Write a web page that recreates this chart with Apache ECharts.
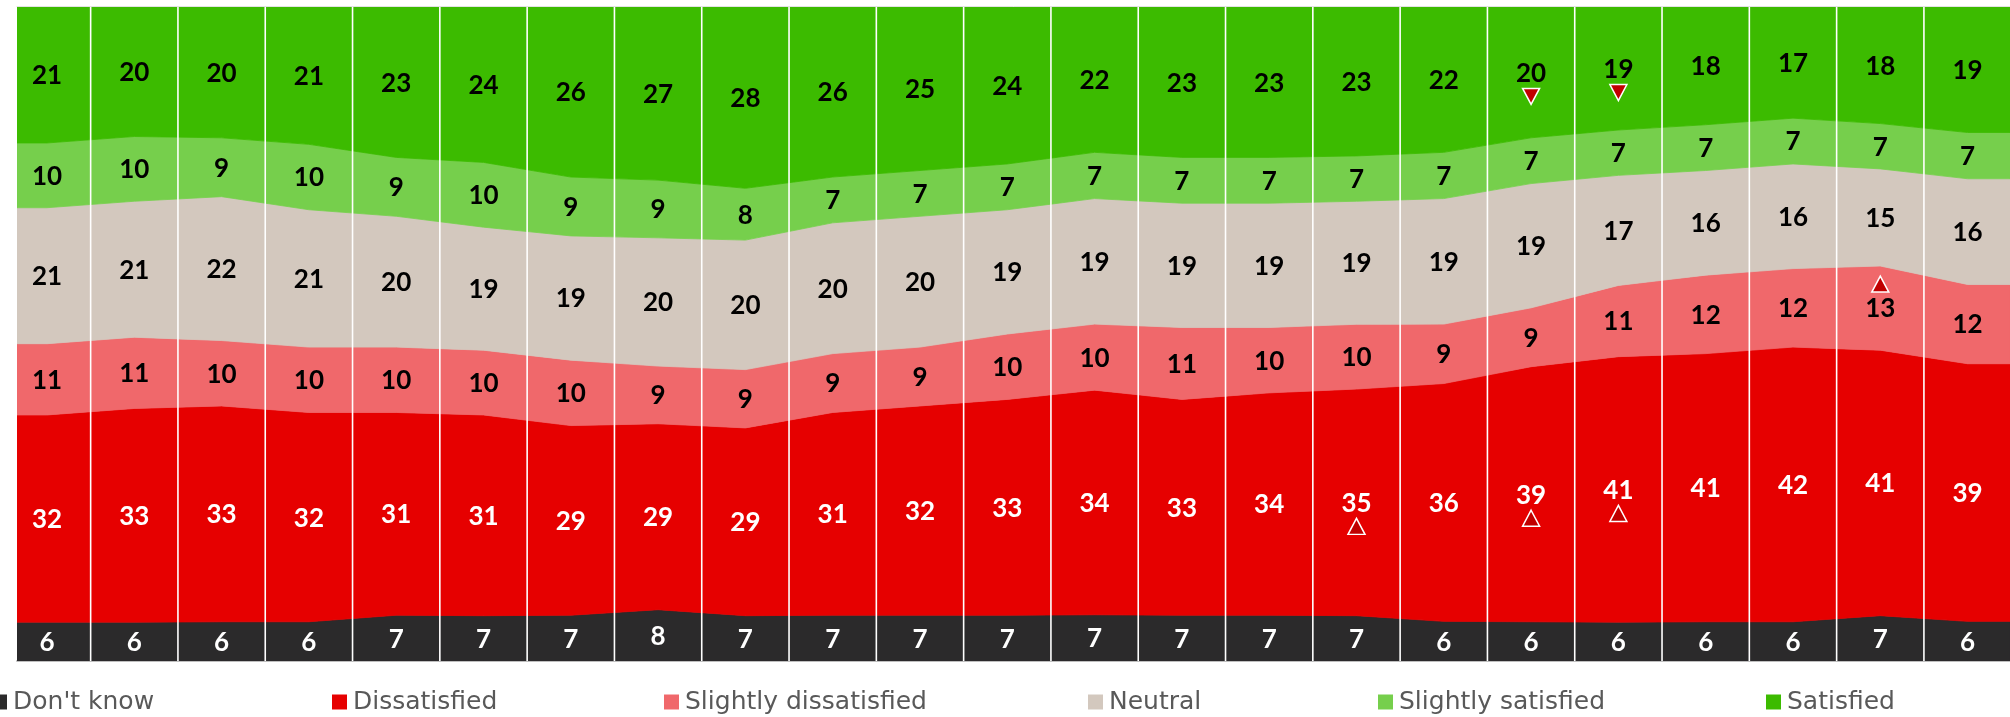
<!DOCTYPE html>
<html>
<head>
<meta charset="utf-8">
<script src="https://cdn.jsdelivr.net/npm/echarts@6/dist/echarts.min.js"></script>
<style>
  html, body { margin: 0; padding: 0; background: #ffffff; }
  #chart { width: 2010px; height: 717px; }
</style>
</head>
<body>
<div id="chart"></div>
<script>
// ---------------- data ----------------
const categories = ['1','2','3','4','5','6','7','8','9','10','11','12','13','14','15','16','17','18','19','20','21','22','23'];
const seriesNames = ["Don't know", 'Dissatisfied', 'Slightly dissatisfied', 'Neutral', 'Slightly satisfied', 'Satisfied'];

const dontKnow             = [6, 6, 6, 6, 7, 7, 7, 8, 7, 7, 7, 7, 7, 7, 7, 7, 6, 6, 6, 6, 6, 7, 6];
const dissatisfied         = [32, 33, 33, 32, 31, 31, 29, 29, 29, 31, 32, 33, 34, 33, 34, 35, 36, 39, 41, 41, 42, 41, 39];
const slightlyDissatisfied = [11, 11, 10, 10, 10, 10, 10, 9, 9, 9, 9, 10, 10, 11, 10, 10, 9, 9, 11, 12, 12, 13, 12];
const neutral              = [21, 21, 22, 21, 20, 19, 19, 20, 20, 20, 20, 19, 19, 19, 19, 19, 19, 19, 17, 16, 16, 15, 16];
const slightlySatisfied    = [10, 10, 9, 10, 9, 10, 9, 9, 8, 7, 7, 7, 7, 7, 7, 7, 7, 7, 7, 7, 7, 7, 7];
const satisfied            = [21, 20, 20, 21, 23, 24, 26, 27, 28, 26, 25, 24, 22, 23, 23, 23, 22, 20, 19, 18, 17, 18, 19];

// significance markers
const markerSeries    = ['Satisfied', 'Satisfied', 'Slightly dissatisfied', 'Dissatisfied', 'Dissatisfied', 'Dissatisfied'];
const markerIndex     = [17, 18, 21, 15, 17, 18];
const markerDirection = ['down', 'down', 'up', 'up', 'up', 'up'];
const markerSide      = ['below', 'below', 'above', 'below', 'below', 'below'];

// ---------------- styles ----------------
const colors = ['#2B2A2B', '#E60000', '#F0686B', '#D3C8BE', '#76CF4C', '#3CBB00'];
const labelColors = ['#FFFFFF', '#FFFFFF', '#000000', '#000000', '#000000', '#000000'];
const legendLeft = [-8, 332, 664, 1088, 1378, 1766];
const X_MIN = -0.3436, X_MAX = 22.486;
const MARKER_OFFSET = 24;

// ---------------- 100% stacking ----------------
const values = [dontKnow, dissatisfied, slightlyDissatisfied, neutral, slightlySatisfied, satisfied];
const n = categories.length;
const totals = categories.map((_, i) => values.reduce((s, arr) => s + arr[i], 0));
const lows = [], highs = [];
let acc = new Array(n).fill(0);
values.forEach(arr => {
  lows.push(acc.map((a, i) => a / totals[i] * 100));
  acc = acc.map((a, i) => a + arr[i]);
  highs.push(acc.map((a, i) => a / totals[i] * 100));
});

function bandRender(s) {
  return function (params, api) {
    const i = params.dataIndex;
    const lo = lows[s], hi = highs[s];
    const last = n - 1;
    const xl = i === 0 ? X_MIN : i - 0.5;
    const xr = i === last ? X_MAX : i + 0.5;
    const hl = i === 0 ? hi[0] : (hi[i - 1] + hi[i]) / 2;
    const hr = i === last ? hi[last] : (hi[i] + hi[i + 1]) / 2;
    const ll = i === 0 ? lo[0] : (lo[i - 1] + lo[i]) / 2;
    const lr = i === last ? lo[last] : (lo[i] + lo[i + 1]) / 2;
    const pts = [[xl, hl], [i, hi[i]], [xr, hr], [xr, lr], [i, lo[i]], [xl, ll]].map(p => api.coord(p));
    const mid = api.coord([i, (lo[i] + hi[i]) / 2]);
    return {
      type: 'group',
      children: [
        { type: 'polygon', shape: { points: pts },
          style: { fill: colors[s], stroke: colors[s], lineWidth: 0.8 } },
        { type: 'text', z2: 10,
          style: { text: String(api.value(1)), x: mid[0], y: mid[1] + 1,
                   align: 'center', verticalAlign: 'middle',
                   fill: labelColors[s], font: 'bold 26px Lato, "DejaVu Sans", sans-serif' } }
      ]
    };
  };
}

const bandSeries = values.map((arr, s) => ({
  type: 'custom',
  name: seriesNames[s],
  itemStyle: { color: colors[s] },
  renderItem: bandRender(s),
  data: arr.map((v, i) => [i, v]),
  encode: { x: 0, y: 1 },
  silent: true,
  z: 2 + s * 0.01,
  clip: true
}));

const separatorSeries = {
  type: 'custom',
  name: 'separators',
  silent: true,
  z: 5,
  renderItem: function (params, api) {
    const i = params.dataIndex;
    const a = api.coord([i + 0.5, 0]);
    const b = api.coord([i + 0.5, 100]);
    return { type: 'line', shape: { x1: a[0], y1: a[1], x2: b[0], y2: b[1] },
             style: { stroke: '#FFFFFF', lineWidth: 1.6 } };
  },
  data: categories.slice(0, n - 1).map((c, i) => [i, 0]),
  encode: { x: 0, y: 1 }
};

const markerData = markerSeries.map((name, k) => {
  const s = seriesNames.indexOf(name);
  const i = markerIndex[k];
  return {
    value: [i, (lows[s][i] + highs[s][i]) / 2],
    symbol: markerDirection[k] === 'down' ? 'path://M0,0L10,0L5,10Z' : 'triangle',
    symbolOffset: [0, markerSide[k] === 'below' ? MARKER_OFFSET : -MARKER_OFFSET]
  };
});

const markerSeriesObj = {
  type: 'scatter',
  name: 'markers',
  silent: true,
  z: 8,
  symbolSize: [17, 16],
  itemStyle: { color: '#C00000', borderColor: '#FFFFFF', borderWidth: 1.5, opacity: 1 },
  data: markerData
};

const legends = seriesNames.map((name, s) => ({
  data: [name],
  left: legendLeft[s],
  top: 689,
  icon: 'rect',
  itemWidth: 15,
  itemHeight: 15,
  itemGap: 0,
  padding: 0,
  selectedMode: false,
  textStyle: { fontFamily: '"DejaVu Sans", sans-serif', fontWeight: 'normal', fontSize: 25, color: '#595959', lineHeight: 26, padding: [0, 0, 0, 1] }
}));

const chart = echarts.init(document.getElementById('chart'), null, { renderer: 'canvas' });
chart.setOption({
  animation: false,
  backgroundColor: '#FFFFFF',
  grid: { left: 17, right: 0, top: 7, bottom: 56 },
  legend: legends,
  xAxis: [
    { type: 'value', min: X_MIN, max: X_MAX, position: 'bottom', offset: 1,
      axisLine: { show: true, lineStyle: { color: '#BFBFBF', width: 2 } },
      axisTick: { show: false }, axisLabel: { show: false }, splitLine: { show: false } },
    { type: 'value', min: X_MIN, max: X_MAX, position: 'top', offset: 1,
      axisLine: { show: true, lineStyle: { color: '#E3E3E3', width: 1 } },
      axisTick: { show: false }, axisLabel: { show: false }, splitLine: { show: false } }
  ],
  yAxis: { type: 'value', min: 0, max: 100, show: false },
  series: [...bandSeries, separatorSeries, markerSeriesObj]
});
</script>
</body>
</html>
